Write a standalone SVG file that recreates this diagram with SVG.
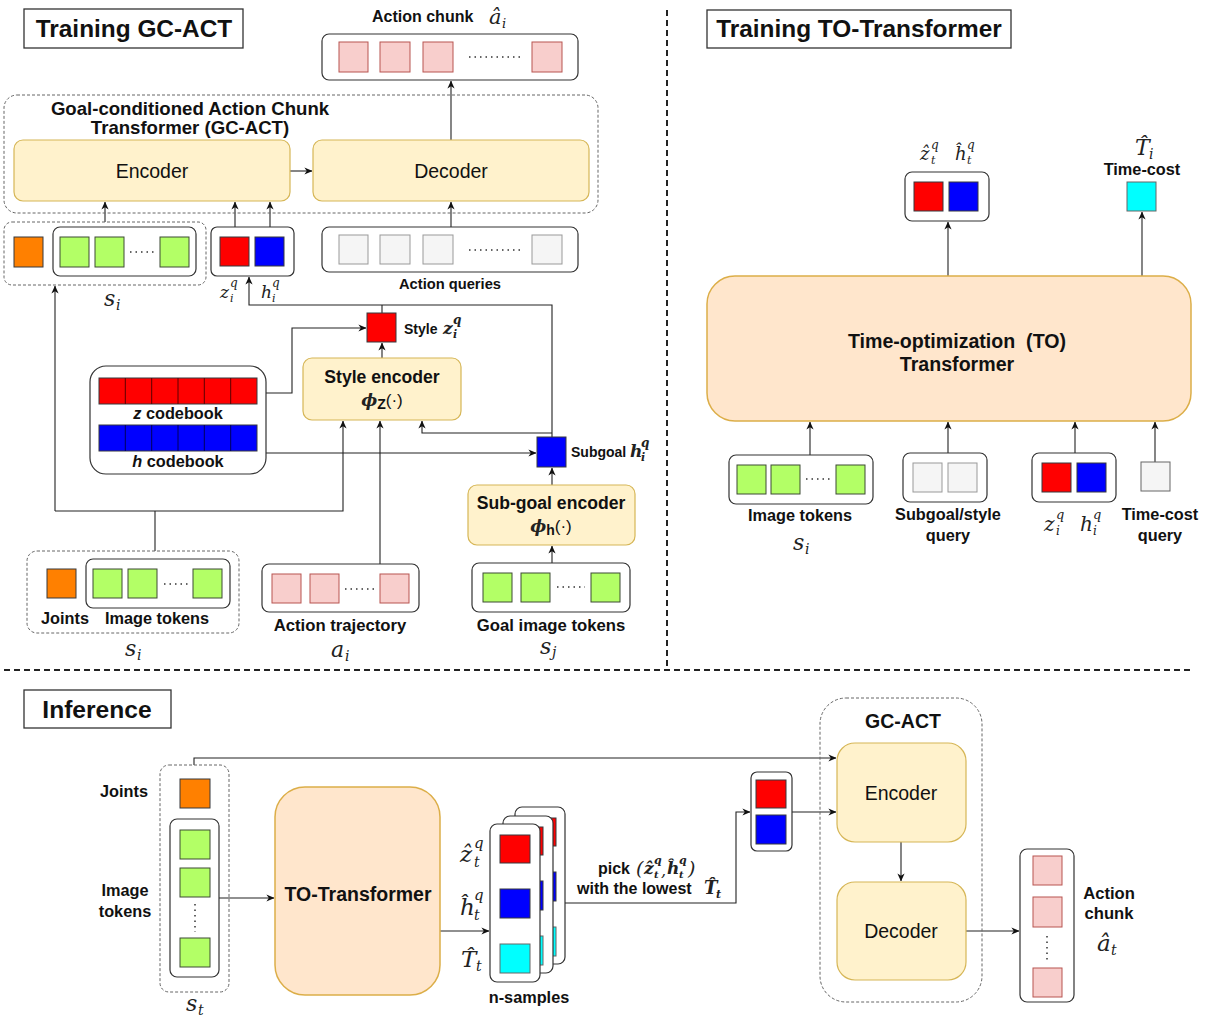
<svg xmlns="http://www.w3.org/2000/svg" width="1207" height="1022" viewBox="0 0 1207 1022">
<style>
.t{font-family:"Liberation Sans",Arial,sans-serif;fill:#111}
.b{font-weight:bold}
.m{font-family:"DejaVu Serif","Liberation Serif",serif;font-style:italic;fill:#222}
.ln{fill:none;stroke:#222;stroke-width:1.1}
.dv{fill:none;stroke:#222;stroke-width:2;stroke-dasharray:6,4}
.grp{fill:none;stroke:#666;stroke-width:1;stroke-dasharray:3,2}
.box{fill:#fff;stroke:#333;stroke-width:1.2}
.ttl{fill:#fff;stroke:#333;stroke-width:1.3}
.pk{fill:#f8cecc;stroke:#b85450}
.gr{fill:#b3ff66;stroke:#3d4a35}
.rd{fill:#ff0000;stroke:#36393d}
.bl{fill:#0000ff;stroke:#36393d}
.gy{fill:#f5f5f5;stroke:#999}
.og{fill:#ff8000;stroke:#36393d}
.cy{fill:#00ffff;stroke:#666}
.ye{fill:#fff2cc;stroke:#d6b656;stroke-width:1.2}
.or{fill:#ffe6cc;stroke:#dcae48;stroke-width:1.5}
.dots{fill:none;stroke:#333;stroke-width:1.5;stroke-dasharray:1.5,4}
.l{font-size:16.3px}
</style>
<defs>
<marker id="a" viewBox="0 0 10 10" refX="9.5" refY="5" markerWidth="8" markerHeight="8" markerUnits="userSpaceOnUse" orient="auto"><path d="M0,0.5 L10,5 L0,9.5 L3,5 z" fill="#111"/></marker>
</defs>

<g id="dividers">
<line class="dv" x1="667" y1="10" x2="667" y2="668"/>
<line class="dv" x1="4" y1="670" x2="1192" y2="670"/>
</g>

<g id="title-training-gcact"><rect class="ttl" x="24" y="9" width="219" height="39"/><text class="t b" x="134" y="37" font-size="24.4" text-anchor="middle">Training GC-ACT</text></g>
<g id="title-training-to"><rect class="ttl" x="707" y="10" width="304" height="38"/><text class="t b" x="859" y="37" font-size="24.4" text-anchor="middle">Training TO-Transformer</text></g>
<g id="title-inference"><rect class="ttl" x="24" y="690" width="147" height="38"/><text class="t b" x="97" y="718" font-size="24.6" text-anchor="middle">Inference</text></g>

<g id="connectors">
<line class="ln" x1="451" y1="140" x2="451" y2="81" marker-end="url(#a)"/>
<line class="ln" x1="290" y1="171" x2="312" y2="171" marker-end="url(#a)"/>
<line class="ln" x1="451" y1="227" x2="451" y2="202" marker-end="url(#a)"/>
<line class="ln" x1="105" y1="222" x2="105" y2="202" marker-end="url(#a)"/>
<line class="ln" x1="235" y1="238" x2="235" y2="202" marker-end="url(#a)"/>
<line class="ln" x1="270" y1="238" x2="270" y2="202" marker-end="url(#a)"/>
<polyline class="ln" points="552,437 552,305 249,305 249,277" marker-end="url(#a)"/>
<line class="ln" x1="382" y1="305" x2="382" y2="313"/>
<line class="ln" x1="382" y1="358" x2="382" y2="343" marker-end="url(#a)"/>
<polyline class="ln" points="266,393 292,393 292,328 366,328" marker-end="url(#a)"/>
<line class="ln" x1="266" y1="453" x2="536" y2="453" marker-end="url(#a)"/>
<polyline class="ln" points="552,433 422,433 422,421" marker-end="url(#a)"/>
<line class="ln" x1="552" y1="485" x2="552" y2="468" marker-end="url(#a)"/>
<line class="ln" x1="552" y1="563" x2="552" y2="546" marker-end="url(#a)"/>
<line class="ln" x1="380" y1="564" x2="380" y2="421" marker-end="url(#a)"/>
<line class="ln" x1="155" y1="551" x2="155" y2="511"/>
<polyline class="ln" points="55,511 343,511 343,421" marker-end="url(#a)"/>
<line class="ln" x1="55" y1="511" x2="55" y2="286" marker-end="url(#a)"/>
<line class="ln" x1="948" y1="276" x2="948" y2="222" marker-end="url(#a)"/>
<line class="ln" x1="1142" y1="276" x2="1142" y2="212" marker-end="url(#a)"/>
<line class="ln" x1="810" y1="455" x2="810" y2="422" marker-end="url(#a)"/>
<line class="ln" x1="948" y1="453" x2="948" y2="422" marker-end="url(#a)"/>
<line class="ln" x1="1075" y1="453" x2="1075" y2="422" marker-end="url(#a)"/>
<line class="ln" x1="1155" y1="462" x2="1155" y2="422" marker-end="url(#a)"/>
<polyline class="ln" points="194,765 194,758 836,758" marker-end="url(#a)"/>
<line class="ln" x1="219" y1="898" x2="274" y2="898" marker-end="url(#a)"/>
<line class="ln" x1="440" y1="931" x2="489" y2="931" marker-end="url(#a)"/>
<polyline class="ln" points="565,903 736,903 736,812 750,812" marker-end="url(#a)"/>
<line class="ln" x1="792" y1="812" x2="836" y2="812" marker-end="url(#a)"/>
<line class="ln" x1="901" y1="842" x2="901" y2="881" marker-end="url(#a)"/>
<line class="ln" x1="966" y1="931" x2="1019" y2="931" marker-end="url(#a)"/>
</g>

<g id="action-chunk">
<text class="t b" x="372" y="22" font-size="16">Action chunk</text>
<text class="m" x="489" y="24" font-size="21">â</text><text class="m" x="502" y="28" font-size="13">i</text>
<rect class="box" x="322" y="34" width="256" height="46" rx="7"/>
<rect class="pk" x="339" y="42" width="29" height="30"/>
<rect class="pk" x="380" y="42" width="30" height="30"/>
<rect class="pk" x="423" y="42" width="30" height="30"/>
<line class="dots" x1="469" y1="57" x2="520" y2="57"/>
<rect class="pk" x="532" y="42" width="30" height="30"/>
</g>

<g id="gcact-group">
<rect class="grp" x="4" y="95" width="594" height="118" rx="13"/>
<text class="t b" x="190" y="115" font-size="18.6" text-anchor="middle">Goal-conditioned Action Chunk</text>
<text class="t b" x="190" y="134" font-size="18.6" text-anchor="middle">Transformer (GC-ACT)</text>
</g>
<g id="encoder"><rect class="ye" x="14" y="140" width="276" height="61" rx="9"/><text class="t" x="152" y="178" font-size="19.5" text-anchor="middle" fill="#333">Encoder</text></g>
<g id="decoder"><rect class="ye" x="313" y="140" width="276" height="61" rx="9"/><text class="t" x="451" y="178" font-size="19.5" text-anchor="middle" fill="#333">Decoder</text></g>

<g id="si-top">
<rect class="grp" x="4" y="222" width="202" height="63" rx="8"/>
<rect class="og" x="14" y="237" width="29" height="30"/>
<rect class="box" x="53" y="227" width="143" height="49" rx="7"/>
<rect class="gr" x="60" y="237" width="29" height="30"/>
<rect class="gr" x="95" y="237" width="29" height="30"/>
<line class="dots" x1="130" y1="252" x2="155" y2="252"/>
<rect class="gr" x="160" y="237" width="29" height="30"/>
<text class="m" x="104" y="306" font-size="22">s</text><text class="m" x="116" y="310" font-size="14">i</text>
</g>

<g id="zh-top">
<rect class="box" x="211" y="227" width="83" height="49" rx="6"/>
<rect class="rd" x="220" y="237" width="29" height="29"/>
<rect class="bl" x="255" y="237" width="29" height="29"/>
<text class="m" x="220" y="298" font-size="17">z</text><text class="m" x="230" y="287" font-size="12">q</text><text class="m" x="230" y="302" font-size="11">i</text>
<text class="m" x="261" y="298" font-size="17">h</text><text class="m" x="272" y="287" font-size="12">q</text><text class="m" x="272" y="302" font-size="11">i</text>
</g>

<g id="action-queries">
<rect class="box" x="322" y="227" width="256" height="45" rx="7"/>
<rect class="gy" x="339" y="235" width="29" height="29"/>
<rect class="gy" x="380" y="235" width="30" height="29"/>
<rect class="gy" x="423" y="235" width="30" height="29"/>
<line class="dots" x1="469" y1="250" x2="520" y2="250"/>
<rect class="gy" x="532" y="235" width="30" height="29"/>
<text class="t b" x="450" y="289" font-size="14.7" text-anchor="middle">Action queries</text>
</g>

<g id="style-z">
<rect class="rd" x="367" y="313" width="29" height="29"/>
<text class="t b" x="404" y="334" font-size="14">Style</text>
<text class="m" x="443" y="334" font-size="17" font-weight="bold">z</text><text class="m" x="453" y="324" font-size="12" font-weight="bold">q</text><text class="m" x="453" y="338" font-size="11" font-weight="bold">i</text>
</g>

<g id="codebook">
<rect class="box" x="90" y="366" width="176" height="108" rx="16"/>
<rect x="99" y="378" width="158" height="26" fill="#ff0000" stroke="#36393d"/>
<path d="M125.3,378v26M151.7,378v26M178,378v26M204.3,378v26M230.7,378v26" stroke="#5a0000" stroke-width="1"/>
<text class="t b" x="178" y="419" font-size="16.3" text-anchor="middle"><tspan font-style="italic">z</tspan> codebook</text>
<rect x="99" y="425" width="158" height="26" fill="#0000ff" stroke="#36393d"/>
<path d="M125.3,425v26M151.7,425v26M178,425v26M204.3,425v26M230.7,425v26" stroke="#00005a" stroke-width="1"/>
<text class="t b" x="178" y="467" font-size="16.3" text-anchor="middle"><tspan font-style="italic">h</tspan> codebook</text>
</g>

<g id="style-encoder">
<rect class="ye" x="303" y="358" width="158" height="62" rx="9"/>
<text class="t b" x="382" y="383" font-size="17.6" text-anchor="middle">Style encoder</text>
<text class="t b" x="382" y="406" font-size="17" text-anchor="middle"><tspan class="m" font-weight="bold">ϕ</tspan><tspan font-size="14" dy="3">Z</tspan><tspan dy="-3" font-weight="normal">(·)</tspan></text>
</g>

<g id="subgoal-h">
<rect class="bl" x="537" y="437" width="29" height="30"/>
<text class="t b" x="571" y="457" font-size="14">Subgoal</text>
<text class="m" x="630" y="457" font-size="17" font-weight="bold">h</text><text class="m" x="641" y="447" font-size="12" font-weight="bold">q</text><text class="m" x="641" y="461" font-size="11" font-weight="bold">i</text>
</g>

<g id="subgoal-encoder">
<rect class="ye" x="468" y="485" width="167" height="60" rx="9"/>
<text class="t b" x="551" y="509" font-size="17.6" text-anchor="middle">Sub-goal encoder</text>
<text class="t b" x="551" y="532" font-size="17" text-anchor="middle"><tspan class="m" font-weight="bold">ϕ</tspan><tspan font-size="14" dy="3">h</tspan><tspan dy="-3" font-weight="normal">(·)</tspan></text>
</g>

<g id="si-bottom">
<rect class="grp" x="27" y="551" width="212" height="82" rx="10"/>
<rect class="og" x="47" y="569" width="29" height="29"/>
<rect class="box" x="86" y="559" width="144" height="49" rx="7"/>
<rect class="gr" x="93" y="569" width="29" height="29"/>
<rect class="gr" x="128" y="569" width="29" height="29"/>
<line class="dots" x1="164" y1="584" x2="189" y2="584"/>
<rect class="gr" x="193" y="569" width="29" height="29"/>
<text class="t b l" x="65" y="624" text-anchor="middle">Joints</text>
<text class="t b l" x="157" y="624" text-anchor="middle">Image tokens</text>
<text class="m" x="125" y="656" font-size="22">s</text><text class="m" x="137" y="660" font-size="14">i</text>
</g>

<g id="action-trajectory">
<rect class="box" x="262" y="564" width="157" height="48" rx="7"/>
<rect class="pk" x="272" y="574" width="29" height="29"/>
<rect class="pk" x="310" y="574" width="29" height="29"/>
<line class="dots" x1="345" y1="589" x2="374" y2="589"/>
<rect class="pk" x="380" y="574" width="29" height="29"/>
<text class="t b" x="340" y="631" font-size="16.7" text-anchor="middle">Action trajectory</text>
<text class="m" x="331" y="657" font-size="22">a</text><text class="m" x="345" y="661" font-size="14">i</text>
</g>

<g id="goal-image-tokens">
<rect class="box" x="472" y="563" width="158" height="49" rx="7"/>
<rect class="gr" x="483" y="573" width="29" height="29"/>
<rect class="gr" x="521" y="573" width="29" height="29"/>
<line class="dots" x1="557" y1="587" x2="585" y2="587"/>
<rect class="gr" x="591" y="573" width="29" height="29"/>
<text class="t b" x="551" y="631" font-size="16.7" text-anchor="middle">Goal image tokens</text>
<text class="m" x="540" y="654" font-size="22">s</text><text class="m" x="552" y="657" font-size="14">j</text>
</g>

<g id="to-transformer">
<rect class="or" x="707" y="276" width="484" height="145" rx="28"/>
<text class="t b" x="957" y="348" font-size="19.6" text-anchor="middle" xml:space="preserve">Time-optimization  (TO)</text>
<text class="t b" x="957" y="371" font-size="19.6" text-anchor="middle">Transformer</text>
</g>
<g id="to-out-zh">
<rect class="box" x="905" y="172" width="84" height="49" rx="7"/>
<rect class="rd" x="914" y="182" width="29" height="29"/>
<rect class="bl" x="949" y="182" width="29" height="29"/>
<text class="m" x="920" y="160" font-size="18">ẑ</text><text class="m" x="931" y="149" font-size="12">q</text><text class="m" x="931" y="164" font-size="11">t</text>
<text class="m" x="955" y="160" font-size="18">ĥ</text><text class="m" x="967" y="149" font-size="12">q</text><text class="m" x="967" y="164" font-size="11">t</text>
</g>
<g id="to-out-timecost">
<text class="m" x="1135" y="155" font-size="22">T̂</text><text class="m" x="1149" y="159" font-size="14">i</text>
<text class="t b" x="1142" y="175" font-size="16.3" text-anchor="middle">Time-cost</text>
<rect class="cy" x="1127" y="182" width="29" height="29"/>
</g>
<g id="to-in-image">
<rect class="box" x="729" y="455" width="144" height="49" rx="7"/>
<rect class="gr" x="737" y="465" width="29" height="29"/>
<rect class="gr" x="771" y="465" width="29" height="29"/>
<line class="dots" x1="806" y1="479" x2="832" y2="479"/>
<rect class="gr" x="836" y="465" width="29" height="29"/>
<text class="t b l" x="800" y="521" text-anchor="middle">Image tokens</text>
<text class="m" x="793" y="550" font-size="22">s</text><text class="m" x="805" y="554" font-size="14">i</text>
</g>
<g id="to-in-query">
<rect class="box" x="903" y="453" width="84" height="49" rx="7"/>
<rect class="gy" x="913" y="463" width="29" height="29"/>
<rect class="gy" x="948" y="463" width="29" height="29"/>
<text class="t b l" x="948" y="520" text-anchor="middle">Subgoal/style</text>
<text class="t b l" x="948" y="541" text-anchor="middle">query</text>
</g>
<g id="to-in-zh">
<rect class="box" x="1032" y="453" width="84" height="49" rx="7"/>
<rect class="rd" x="1042" y="463" width="29" height="29"/>
<rect class="bl" x="1077" y="463" width="29" height="29"/>
<text class="m" x="1044" y="531" font-size="20">z</text><text class="m" x="1056" y="519" font-size="13">q</text><text class="m" x="1056" y="535" font-size="12">i</text>
<text class="m" x="1080" y="531" font-size="20">h</text><text class="m" x="1093" y="519" font-size="13">q</text><text class="m" x="1093" y="535" font-size="12">i</text>
</g>
<g id="to-in-timecost">
<rect class="gy" x="1141" y="462" width="29" height="29" style="stroke:#666"/>
<text class="t b l" x="1160" y="520" text-anchor="middle">Time-cost</text>
<text class="t b l" x="1160" y="541" text-anchor="middle">query</text>
</g>

<g id="st-input">
<text class="t b l" x="148" y="797" text-anchor="end">Joints</text>
<text class="t b l" x="125" y="896" text-anchor="middle">Image</text>
<text class="t b l" x="125" y="917" text-anchor="middle">tokens</text>
<rect class="grp" x="160" y="765" width="69" height="227" rx="9"/>
<rect class="og" x="180" y="779" width="30" height="29"/>
<rect class="box" x="170" y="819" width="49" height="158" rx="7"/>
<rect class="gr" x="180" y="830" width="30" height="29"/>
<rect class="gr" x="180" y="868" width="30" height="29"/>
<line class="dots" x1="195" y1="904" x2="195" y2="932"/>
<rect class="gr" x="180" y="938" width="30" height="29"/>
<text class="m" x="186" y="1011" font-size="22">s</text><text class="m" x="198" y="1015" font-size="14">t</text>
</g>
<g id="to-transformer-inf">
<rect class="or" x="275" y="787" width="165" height="208" rx="30"/>
<text class="t b" x="358" y="901" font-size="19.5" text-anchor="middle">TO-Transformer</text>
</g>
<g id="n-samples">
<rect class="box" x="515" y="807" width="50" height="157" rx="7"/>
<rect class="rd" x="526" y="818" width="30" height="28"/>
<rect class="bl" x="526" y="872" width="30" height="29"/>
<rect class="cy" x="526" y="927" width="30" height="29"/>
<rect class="box" x="503" y="816" width="50" height="157" rx="7"/>
<rect class="rd" x="513" y="827" width="30" height="28"/>
<rect class="bl" x="513" y="881" width="30" height="29"/>
<rect class="cy" x="513" y="936" width="30" height="29"/>
<rect class="box" x="490" y="824" width="50" height="158" rx="7"/>
<rect class="rd" x="500" y="835" width="30" height="28"/>
<rect class="bl" x="500" y="889" width="30" height="29"/>
<rect class="cy" x="500" y="944" width="30" height="29"/>
<text class="m" x="460" y="862" font-size="23">ẑ</text><text class="m" x="474" y="848" font-size="15">q</text><text class="m" x="474" y="867" font-size="14">t</text>
<text class="m" x="460" y="915" font-size="23">ĥ</text><text class="m" x="474" y="900" font-size="15">q</text><text class="m" x="474" y="920" font-size="14">t</text>
<text class="m" x="461" y="967" font-size="23">T̂</text><text class="m" x="476" y="971" font-size="14">t</text>
<text class="t b l" x="529" y="1003" text-anchor="middle">n-samples</text>
</g>
<g id="pick-label">
<text class="t b" x="598" y="874" font-size="16">pick</text>
<text class="m" x="636" y="875" font-size="19" font-style="normal">(</text>
<text class="m" x="644" y="874" font-size="17" font-weight="bold">ẑ</text><text class="m" x="654" y="864" font-size="11" font-weight="bold">q</text><text class="m" x="654" y="878" font-size="10" font-weight="bold">t</text>
<text class="m" x="661" y="876" font-size="16">,</text>
<text class="m" x="667" y="874" font-size="17" font-weight="bold">ĥ</text><text class="m" x="679" y="864" font-size="11" font-weight="bold">q</text><text class="m" x="679" y="878" font-size="10" font-weight="bold">t</text>
<text class="m" x="688" y="875" font-size="19" font-style="normal">)</text>
<text class="t b" x="577" y="894" font-size="16">with the lowest</text>
<text class="m" x="704" y="894" font-size="18" font-weight="bold">T̂</text><text class="m" x="716" y="898" font-size="11" font-weight="bold">t</text>
</g>
<g id="picked">
<rect class="box" x="751" y="772" width="41" height="79" rx="6"/>
<rect class="rd" x="756" y="780" width="30" height="28"/>
<rect class="bl" x="756" y="815" width="30" height="29"/>
</g>
<g id="gcact-inf">
<rect class="grp" x="820" y="698" width="162" height="304" rx="26"/>
<text class="t b" x="903" y="728" font-size="19.5" text-anchor="middle">GC-ACT</text>
</g>
<g id="encoder-inf"><rect class="ye" x="837" y="743" width="129" height="99" rx="18"/><text class="t" x="901" y="800" font-size="19.5" text-anchor="middle" fill="#333">Encoder</text></g>
<g id="decoder-inf"><rect class="ye" x="837" y="882" width="129" height="98" rx="18"/><text class="t" x="901" y="938" font-size="19.5" text-anchor="middle" fill="#333">Decoder</text></g>
<g id="action-chunk-inf">
<rect class="box" x="1020" y="849" width="54" height="153" rx="7"/>
<rect class="pk" x="1033" y="856" width="29" height="29"/>
<rect class="pk" x="1033" y="897" width="29" height="30"/>
<line class="dots" x1="1047" y1="936" x2="1047" y2="962"/>
<rect class="pk" x="1033" y="968" width="29" height="29"/>
<text class="t b" x="1109" y="899" font-size="16.6" text-anchor="middle">Action</text>
<text class="t b" x="1109" y="919" font-size="16.6" text-anchor="middle">chunk</text>
<text class="m" x="1097" y="951" font-size="23">â</text><text class="m" x="1111" y="955" font-size="14">t</text>
</g>
</svg>
